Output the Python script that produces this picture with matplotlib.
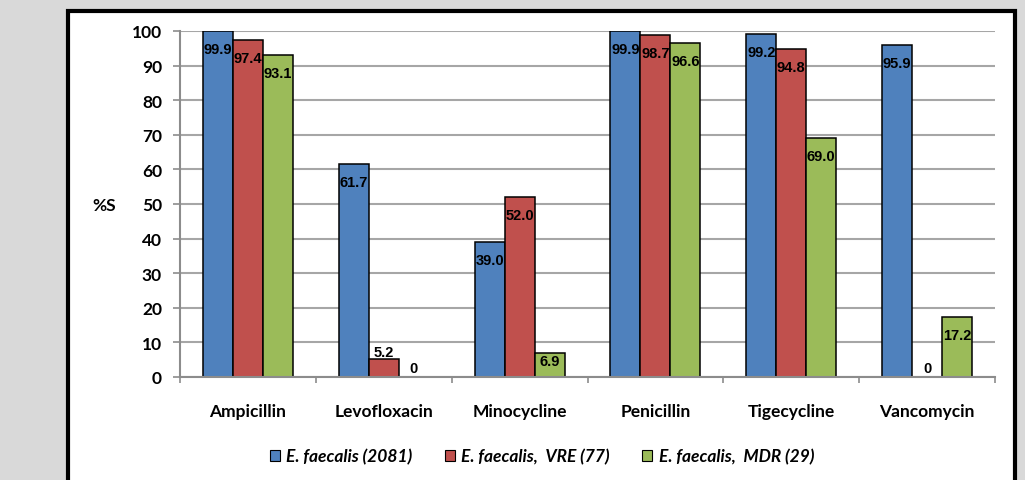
import matplotlib
matplotlib.use("Agg")
import matplotlib.pyplot as plt
from matplotlib.patches import Rectangle, Patch
import numpy as np

categories = ["Ampicillin", "Levofloxacin", "Minocycline", "Penicillin", "Tigecycline", "Vancomycin"]
series_names = ["E. faecalis (2081)", "E. faecalis,  VRE (77)", "E. faecalis,  MDR (29)"]
all_isolates = [99.9, 61.7, 39.0, 99.9, 99.2, 95.9]
vre = [97.4, 5.2, 52.0, 98.7, 94.8, 0]
mdr = [93.1, 0, 6.9, 96.6, 69.0, 17.2]
label_all = ["99.9", "61.7", "39.0", "99.9", "99.2", "95.9"]
label_vre = ["97.4", "5.2", "52.0", "98.7", "94.8", "0"]
label_mdr = ["93.1", "0", "6.9", "96.6", "69.0", "17.2"]
yticks = [0, 10, 20, 30, 40, 50, 60, 70, 80, 90, 100]
ylabel = "%S"

colors = ["#4F81BD", "#C0504D", "#9BBB59"]
W, H = 1025, 481
fig = plt.figure(figsize=(W / 100, H / 100), dpi=100)
fig.patch.set_facecolor("#d9d9d9")

# white framed box
box = Rectangle((67.5 / W, -0.1), (1015 - 67.5) / W, 1 - 12 / H + 0.1,
                transform=fig.transFigure, facecolor="white", edgecolor="black",
                linewidth=3.0, zorder=-10)
fig.patches.append(box)

ax = fig.add_axes([180 / W, 1 - 378 / H, (995 - 180) / W, (378 - 32) / H])
ax.set_facecolor("none")
ax.set_ylim(0, 100)
ax.set_xlim(0, len(categories))

x = np.arange(len(categories)) + 0.5
bw = 30 / ((995 - 180) / 6)
series = [all_isolates, vre, mdr]
labels = [label_all, label_vre, label_mdr]

tick_font = ["Lato", "DejaVu Sans"]
num_font = ["Liberation Sans", "DejaVu Sans"]

for i, (vals, labs) in enumerate(zip(series, labels)):
    xs = x + (i - 1) * bw
    bars = ax.bar(xs, vals, width=bw, color=colors[i], edgecolor="black", linewidth=1.1, zorder=3)
    for b, v in zip(bars, vals):
        if v == 0:
            b.set_linewidth(0)
    for xi, v, lab in zip(xs, vals, labs):
        if v == 0:
            yp = 2.6
        elif v < 6:
            yp = v + 2.0
        else:
            yp = max(v - 5.2, 4.6)
        ax.text(xi, yp, lab, ha="center", va="center", fontsize=10.5, fontweight="bold",
                family=num_font, color="black", zorder=4)

ax.set_yticks(yticks)
ax.yaxis.grid(True, color="#a6a6a6", linewidth=1.5, zorder=0)
ax.set_axisbelow(True)
for s in ["top", "right"]:
    ax.spines[s].set_visible(False)
ax.spines["left"].set_color("#8c8c8c")
ax.spines["bottom"].set_color("#8c8c8c")
ax.spines["left"].set_linewidth(1.5)
ax.spines["bottom"].set_linewidth(1.5)
ax.spines["bottom"].set_zorder(5)
ax.tick_params(axis="y", length=5, width=1.2, color="#8c8c8c", pad=8)
for lab in ax.get_yticklabels():
    lab.set_fontfamily(tick_font)
    lab.set_fontweight("bold")
    lab.set_fontsize(12.5)

ax.set_xticks(np.arange(len(categories) + 1))
ax.set_xticklabels([])
ax.tick_params(axis="x", which="major", length=4, width=1.2, color="#8c8c8c")
ax.set_xticks(x, minor=True)
ax.set_xticklabels(categories, minor=True, fontsize=12.5, fontweight="bold", family=tick_font)
ax.tick_params(axis="x", which="minor", length=0, pad=19)

fig.text(104 / W, 1 - 206 / H, ylabel, ha="center", va="center", fontsize=12.5,
         fontweight="bold", family=tick_font)

handles = [Patch(facecolor=c, edgecolor="black", linewidth=0.8) for c in colors]
leg = fig.legend(handles, series_names, loc="center", bbox_to_anchor=(542 / W, 1 - 457 / H),
                 ncol=3, frameon=False, handlelength=0.6, handleheight=0.6,
                 handletextpad=0.35, columnspacing=1.85,
                 prop={"family": tick_font, "weight": "bold", "style": "italic", "size": 12.5})

fig.savefig("out.png", dpi=100, facecolor=fig.get_facecolor())
